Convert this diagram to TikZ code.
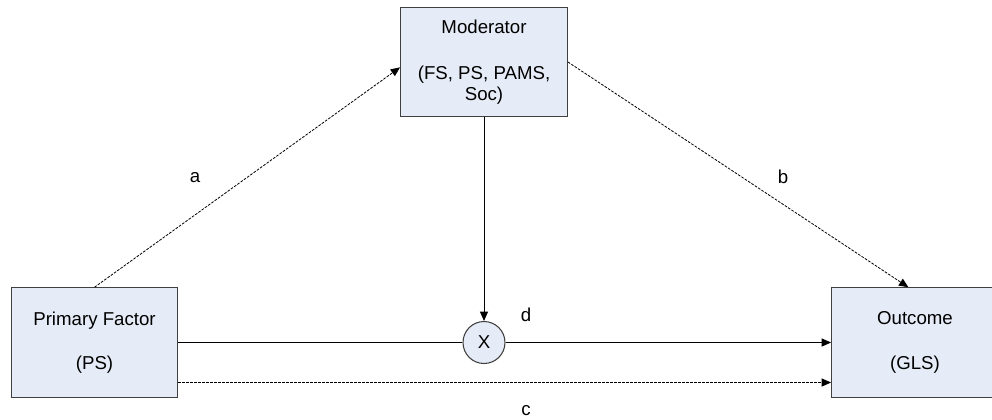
\documentclass[tikz,border=0pt]{standalone}
\usepackage{fontspec}
\setmainfont{Liberation Sans}
\usepackage{tikz}
\usetikzlibrary{
  arrows.meta,
  positioning
}
\definecolor{boxfill}{HTML}{E6ECF7}
\definecolor{boxline}{HTML}{404040}
\tikzset{
  factor/.style = {draw=boxline, fill=boxfill, line width=0.9pt,
                   minimum width=125pt, minimum height=82pt,
                   align=center, inner sep=2pt,
                   font=\fontsize{14}{15.5}\selectfont},
  mult/.style   = {circle, draw=boxline, fill=boxfill, line width=0.8pt,
                   minimum size=31.5pt, inner sep=0pt,
                   font=\fontsize{14}{15.5}\selectfont},
  link/.style   = {-{Triangle[length=7pt, width=6pt]}, line width=0.6pt},
  dlink/.style  = {link, dash pattern=on 2pt off 1pt},
  lbl/.style    = {font=\fontsize{14}{15.5}\selectfont},
}
\begin{document}
\begin{tikzpicture}[x=0.75pt, y=-0.75pt]

    \useasboundingbox (0,0) rectangle (992,419);

    % Boxes
    \node[factor] (mod)  at (484,62)    {Moderator\\[19pt](FS, PS, PAMS,\\Soc)};
    \node[factor] (prim) at (94.5,342.5) {Primary Factor\\[18pt](PS)};
    \node[factor] (outc) at (915,342.5)  {Outcome\\[18pt](GLS)};
    \node[mult]   (x)    at (484,342.5)  {X};

    % Paths
    \draw[dlink] (prim.north) -- ([yshift=-4pt]mod.west);
    \draw[dlink] (mod.east) -- ([xshift=-5pt]outc.north);
    \draw[link]  (mod.south) -- (x.north);
    \draw[line width=0.6pt] (prim.east) -- (x.west);
    \draw[link]  (x.east) -- (outc.west);
    \draw[dlink] ([yshift=-30pt]prim.east) -- ([yshift=-30pt]outc.west);

    % Labels
    \node[lbl] (la) at (195,178) {a};
    \node[lbl] (lb) at (783,177) {b};
    \node[lbl] (ld) at (526,315) {d};
    \node[lbl] (lc) at (526,411) {c};

\end{tikzpicture}
\end{document}
